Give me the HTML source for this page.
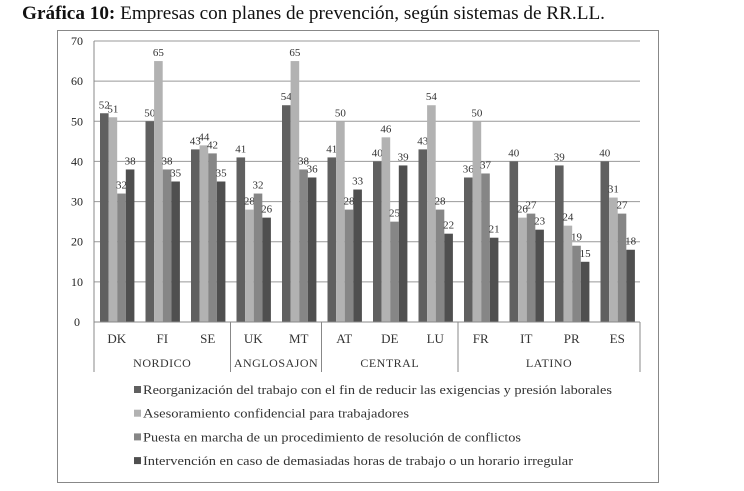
<!DOCTYPE html>
<html><head><meta charset="utf-8"><style>
body{margin:0;background:#fff;width:744px;height:486px;overflow:hidden;font-family:"Liberation Serif",serif}
</style></head><body>
<svg width="744" height="486" font-family="Liberation Serif, serif">
<text x="22" y="19" font-size="18.5" fill="#111" textLength="583" lengthAdjust="spacingAndGlyphs"><tspan font-weight="bold">Gráfica 10:</tspan> Empresas con planes de prevención, según sistemas de RR.LL.</text>
<rect x="57.5" y="30.5" width="601" height="452" fill="none" stroke="#888"/>
<g id="grid"></g><g id="bars"></g><g id="axes"></g><g id="legend"></g>
</svg>
<script>
const categories=["DK","FI","SE","UK","MT","AT","DE","LU","FR","IT","PR","ES"];
const groups=["NORDICO","ANGLOSAJON","CENTRAL","LATINO"];
const groupSizes=[3,2,3,4];
const s1=[52,50,43,41,54,41,40,43,36,40,39,40];
const s2=[51,65,44,28,65,50,46,54,50,26,24,31];
const s3=[32,38,42,32,38,28,25,28,37,27,19,27];
const s4=[38,35,35,26,36,33,39,22,21,23,15,18];
const seriesNames=["Reorganización del trabajo con el fin de reducir las exigencias y presión laborales","Asesoramiento confidencial para trabajadores","Puesta en marcha de un procedimiento de resolución de conflictos","Intervención en caso de demasiadas horas de trabajo o un horario irregular"];
const legendWidths=[469,266,378,430];
const yTicks=[0,10,20,30,40,50,60,70];
const colors=["#606060","#b2b2b2","#868686","#4f4f4f"];
const NS="http://www.w3.org/2000/svg";
const X0=94,X1=640,Y0=322,Y1=41,YMAX=70;
const cw=(X1-X0)/categories.length;
const y=v=>Y0-(v/YMAX)*(Y0-Y1);
const xc=i=>X0+i*cw;
function mk(tag,attrs,parent,txt){const e=document.createElementNS(NS,tag);for(const k in attrs)e.setAttribute(k,attrs[k]);if(txt!==undefined)e.textContent=txt;document.getElementById(parent).appendChild(e);return e;}
yTicks.forEach(t=>{
 if(t>0){const l=mk('line',{x1:X0,x2:X1,y1:y(t),y2:y(t),stroke:'#999','stroke-width':1},'grid');
 
 }
 const tx=mk('text',{x:77,y:y(t)+4,'font-size':12,'text-anchor':'middle',fill:'#222'},'axes',t);
 
 
});
const series=[s1,s2,s3,s4];
const bw=8.6,off=6;
series.forEach((s,si)=>{s.forEach((v,i)=>{
 const bx=xc(i)+off+si*bw;
 const r=mk('rect',{x:bx,y:y(v),width:bw,height:Y0-y(v),fill:colors[si]},'bars');
 
 
 const t=mk('text',{x:bx+bw/2,y:y(v)-5,'font-size':11,'text-anchor':'middle',fill:'#333'},'bars',v);
 
 
});});
const ax=mk('line',{x1:X0,x2:X0,y1:Y1,y2:372,stroke:'#888'},'axes');


const bx=mk('line',{x1:X0,x2:X1,y1:Y0,y2:Y0,stroke:'#888'},'axes');


categories.forEach((c,i)=>{
 const t=mk('text',{x:xc(i)+cw/2,y:343,'font-size':13,'text-anchor':'middle',fill:'#333'},'axes',c);
 
 
});
let start=0;
groups.forEach((g,gi)=>{
 const end=start+groupSizes[gi];
 const t=mk('text',{x:(xc(start)+xc(end))/2,y:367,'font-size':12,'text-anchor':'middle',fill:'#333','letter-spacing':'0.5'},'axes',g);
 
 
 const l=mk('line',{x1:xc(end),x2:xc(end),y1:Y0,y2:372,stroke:'#888'},'axes');
 
 
 start=end;
});
seriesNames.forEach((n,i)=>{
 const yy=390+i*23.7;
 const r=mk('rect',{x:134,y:yy-4,width:7,height:7,fill:colors[i]},'legend');
 
 
 const t=mk('text',{x:143,y:yy+4,'font-size':12.5,fill:'#333',textLength:legendWidths[i],lengthAdjust:'spacingAndGlyphs'},'legend',n);
 
 
});
</script>
</body></html>
